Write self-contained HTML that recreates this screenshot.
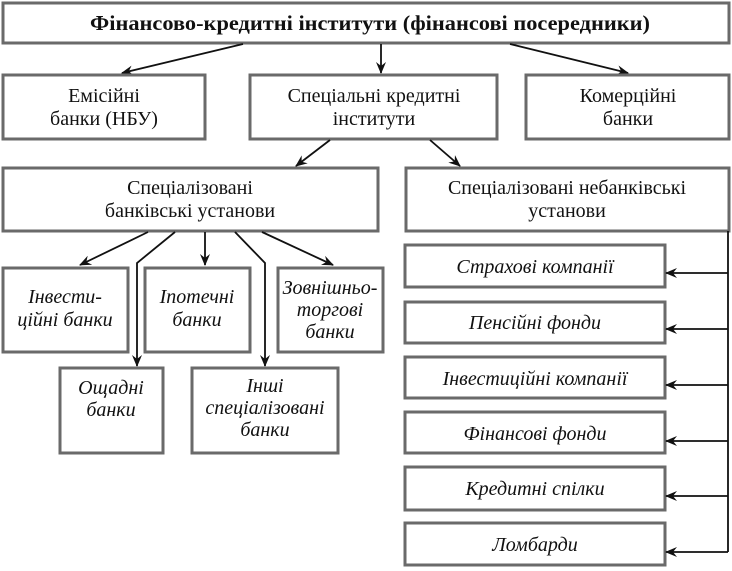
<!DOCTYPE html>
<html><head><meta charset="utf-8"><style>
html,body{margin:0;padding:0;background:#fff;}
svg{display:block}
text{font-family:"Liberation Serif","DejaVu Serif",serif;font-size:20px;fill:#111;text-anchor:middle}
.i{font-style:italic}
rect{fill:#fff;stroke:#6a6a6a;stroke-width:3}
line,polyline{stroke:#111;stroke-width:1.8;fill:none}
</style></head><body>
<svg width="732" height="571" viewBox="0 0 732 571">
<defs><marker id="a" viewBox="0 0 12 10" refX="11" refY="5" markerWidth="12" markerHeight="10" markerUnits="userSpaceOnUse" orient="auto"><path d="M0,0 L12,5 L0,10 L4,5 Z" fill="#111"/></marker></defs>
<rect x="3" y="3" width="726" height="40"/>
<text x="370" y="30" font-weight="bold" textLength="560" lengthAdjust="spacingAndGlyphs" style="font-size:21px">Фінансово-кредитні інститути (фінансові посередники)</text>
<line x1="243" y1="44" x2="122" y2="73" marker-end="url(#a)"/>
<line x1="381" y1="44" x2="381" y2="73" marker-end="url(#a)"/>
<line x1="510" y1="44" x2="628" y2="73" marker-end="url(#a)"/>
<rect x="3" y="75" width="202" height="64"/>
<text x="104" y="102">Емісійні</text><text x="104" y="125">банки (НБУ)</text>
<rect x="250" y="75" width="247" height="64"/>
<text x="374" y="102">Спеціальні кредитні</text><text x="374" y="125">інститути</text>
<rect x="526" y="75" width="203" height="64"/>
<text x="628" y="102">Комерційні</text><text x="628" y="125">банки</text>
<line x1="330" y1="140" x2="296" y2="166" marker-end="url(#a)"/>
<line x1="430" y1="140" x2="460" y2="166" marker-end="url(#a)"/>
<rect x="3" y="168" width="375" height="63"/>
<text x="190" y="194">Спеціалізовані</text><text x="190" y="217">банківські установи</text>
<rect x="406" y="168" width="323" height="63"/>
<text x="567" y="194">Спеціалізовані небанківські</text><text x="567" y="217">установи</text>
<line x1="148" y1="232" x2="80" y2="265" marker-end="url(#a)"/>
<polyline points="175,232 137,263 137,366" marker-end="url(#a)"/>
<line x1="205" y1="232" x2="205" y2="265" marker-end="url(#a)"/>
<polyline points="235,232 265,263 265,366" marker-end="url(#a)"/>
<line x1="262" y1="232" x2="333" y2="265" marker-end="url(#a)"/>
<rect x="3" y="268" width="125" height="84"/>
<text class="i" x="65" y="303">Інвести-</text><text class="i" x="65" y="326">ційні банки</text>
<rect x="145" y="268" width="105" height="84"/>
<text class="i" x="197" y="303">Іпотечні</text><text class="i" x="197" y="326">банки</text>
<rect x="278" y="268" width="105" height="84"/>
<text class="i" x="330" y="294">Зовнішньо-</text><text class="i" x="330" y="316">торгові</text><text class="i" x="330" y="338">банки</text>
<rect x="60" y="368" width="103" height="85"/>
<text class="i" x="111" y="394">Ощадні</text><text class="i" x="111" y="416">банки</text>
<rect x="192" y="368" width="146" height="85"/>
<text class="i" x="265" y="392">Інші</text><text class="i" x="265" y="414">спеціалізовані</text><text class="i" x="265" y="436">банки</text>
<rect x="405" y="245" width="260" height="42"/><text class="i" x="535" y="273">Страхові компанії</text>
<rect x="405" y="302" width="260" height="41"/><text class="i" x="535" y="329">Пенсійні фонди</text>
<rect x="405" y="357" width="260" height="41"/><text class="i" x="535" y="385">Інвестиційні компанії</text>
<rect x="405" y="412" width="260" height="41"/><text class="i" x="535" y="440">Фінансові фонди</text>
<rect x="405" y="467" width="260" height="43"/><text class="i" x="535" y="495">Кредитні спілки</text>
<rect x="405" y="523" width="260" height="42"/><text class="i" x="535" y="551">Ломбарди</text>
<line x1="728" y1="231" x2="728" y2="552"/>
<line x1="728" y1="273" x2="666" y2="273" marker-end="url(#a)"/>
<line x1="728" y1="329" x2="666" y2="329" marker-end="url(#a)"/>
<line x1="728" y1="385" x2="666" y2="385" marker-end="url(#a)"/>
<line x1="728" y1="441" x2="666" y2="441" marker-end="url(#a)"/>
<line x1="728" y1="496" x2="666" y2="496" marker-end="url(#a)"/>
<line x1="728" y1="552" x2="666" y2="552" marker-end="url(#a)"/>
</svg>
</body></html>
